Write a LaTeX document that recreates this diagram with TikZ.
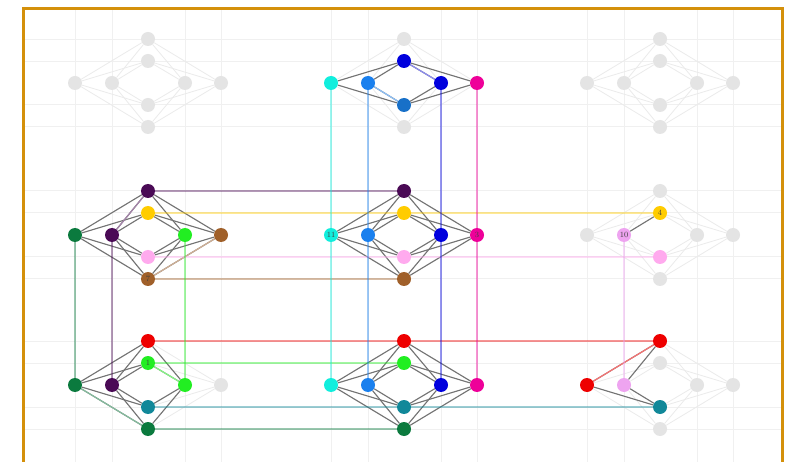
\documentclass[tikz,border=0pt]{standalone}
\usepackage{tikz}
\usetikzlibrary{backgrounds}
\definecolor{fade}{HTML}{E4E4E4}
\definecolor{plum}{HTML}{4A0A55}
\definecolor{gold}{HTML}{FFCC00}
\definecolor{pine}{HTML}{0B7A3E}
\definecolor{lime}{HTML}{22EE22}
\definecolor{rust}{HTML}{A0602A}
\definecolor{rose}{HTML}{FFAAEE}
\definecolor{aqua}{HTML}{11EEDD}
\definecolor{azure}{HTML}{1A80EE}
\definecolor{deepblue}{HTML}{0000DD}
\definecolor{fuchsia}{HTML}{EE0099}
\definecolor{steel}{HTML}{1870C8}
\definecolor{scarlet}{HTML}{EE0000}
\definecolor{teal}{HTML}{118899}
\definecolor{lilac}{HTML}{EEA4F0}
\definecolor{framecol}{HTML}{D4900A}

\begin{document}
\begin{tikzpicture}[
    x=1pt,y=-1pt,
    dot/.style={circle,draw=none,minimum size=14pt,inner sep=0pt},
    gridline/.style={draw=black!6,line width=1pt},
    fadeedge/.style={draw=black!8,line width=0.8pt},
    edge/.style={draw=black!55,line width=1.1pt},
    samecol/.style={line width=1.2pt},
    link/.style={line width=1.3pt,opacity=0.42},
    numlabel/.style={font=\fontsize{8}{8}\selectfont,text=black!75,inner sep=0pt}
  ]
  \useasboundingbox (0,0) rectangle (795,462);
  % clusters: name/x/y/top/upper/left outer/left inner/right inner/right outer/lower/bottom
  \foreach \c/\cx/\cy/\ct/\cu/\clo/\cli/\cri/\cro/\cd/\cb in {
      tl/148/83/fade/fade/fade/fade/fade/fade/fade/fade,
      tm/404/83/fade/deepblue/aqua/azure/deepblue/fuchsia/steel/fade,
      tr/660/83/fade/fade/fade/fade/fade/fade/fade/fade,
      ml/148/235/plum/gold/pine/plum/lime/rust/rose/rust,
      mm/404/235/plum/gold/aqua/azure/deepblue/fuchsia/rose/rust,
      mr/660/235/fade/gold/fade/lilac/fade/fade/rose/fade,
      bl/148/385/scarlet/lime/pine/plum/lime/fade/teal/pine,
      bm/404/385/scarlet/lime/aqua/azure/deepblue/fuchsia/teal/pine,
      br/660/385/scarlet/fade/scarlet/lilac/fade/fade/teal/fade}{
    \node[dot,fill=\ct] (\c-t) at (\cx,\cy-44) {};
    \node[dot,fill=\cu] (\c-u) at (\cx,\cy-22) {};
    \node[dot,fill=\clo] (\c-lo) at (\cx-73,\cy) {};
    \node[dot,fill=\cli] (\c-li) at (\cx-36,\cy) {};
    \node[dot,fill=\cri] (\c-ri) at (\cx+37,\cy) {};
    \node[dot,fill=\cro] (\c-ro) at (\cx+73,\cy) {};
    \node[dot,fill=\cd] (\c-d) at (\cx,\cy+22) {};
    \node[dot,fill=\cb] (\c-b) at (\cx,\cy+44) {};
  }
  % numbers on some nodes
  \node[numlabel] (n1) at (bl-u) {1};
  \node[numlabel] (n3) at (mm-ro) {3};
  \node[numlabel] (n4) at (mr-u) {4};
  \node[numlabel] (n7) at (ml-b) {7};
  \node[numlabel] (n10) at (mr-li) {10};
  \node[numlabel] (n11) at (mm-lo) {11};

  \begin{pgfonlayer}{background}
    \fill[white] (0,0) rectangle (795,462);
    % faint grid
    \foreach \gy in {40,62,105,127,191,213,257,279,341,363,407,429}
      \draw[gridline] (24,\gy) -- (781,\gy);
    \foreach \gx in {75,112,185,221,331,368,441,477,587,624,697,733}
      \draw[gridline] (\gx,10) -- (\gx,462);
    % faded edges of every cluster
    \foreach \c in {tl,tm,tr,ml,mm,mr,bl,bm,br}
      \foreach \s in {lo,li,ri,ro}
        \foreach \h in {t,u,d,b}
          \draw[fadeedge] (\c-\s) -- (\c-\h);
    % active edges
    \foreach \c/\ss/\hh in {tm/{lo,li,ri,ro}/{u,d}, ml/{lo,li,ri,ro}/{t,u,d,b},
        mm/{lo,li,ri,ro}/{t,u,d,b}, mr/{li}/{u}, bl/{lo,li,ri}/{t,u,d,b},
        bm/{lo,li,ri,ro}/{t,u,d,b}, br/{lo,li}/{t,d}}
      \foreach \s in \ss
        \foreach \h in \hh
          \draw[edge] (\c-\s) -- (\c-\h);
    % same colour at both ends
    \draw[samecol,draw=deepblue!45] (tm-u) -- (tm-ri);
    \draw[samecol,draw=azure!50] (tm-li) -- (tm-d);
    \draw[samecol,draw=plum!50] (ml-t) -- (ml-li);
    \draw[samecol,draw=rust!50] (ml-ro) -- (ml-b);
    \draw[samecol,draw=pine!50] (bl-lo) -- (bl-b);
    \draw[samecol,draw=lime!55] (bl-u) -- (bl-ri);
    \draw[samecol,draw=scarlet!55] (br-lo) -- (br-t);
    % links between clusters
    \draw[link,plum] (ml-t) -- (mm-t);
    \draw[link,gold] (ml-u) -- (mr-u);
    \draw[link,rose] (ml-d) -- (mr-d);
    \draw[link,rust] (ml-b) -- (mm-b);
    \draw[link,scarlet] (bl-t) -- (br-t);
    \draw[link,lime] (bl-u) -- (bm-u);
    \draw[link,teal] (bl-d) -- (br-d);
    \draw[link,pine] (bl-b) -- (bm-b);
    \draw[link,pine] (ml-lo) -- (bl-lo);
    \draw[link,plum] (ml-li) -- (bl-li);
    \draw[link,lime] (ml-ri) -- (bl-ri);
    \draw[link,aqua] (tm-lo) -- (bm-lo);
    \draw[link,azure] (tm-li) -- (bm-li);
    \draw[link,deepblue] (tm-ri) -- (bm-ri);
    \draw[link,fuchsia] (tm-ro) -- (bm-ro);
    \draw[link,lilac] (mr-li) -- (br-li);
  \end{pgfonlayer}
  % frame
  \draw[framecol,line width=3pt] (23,9) rectangle (782,478);
\end{tikzpicture}
\end{document}
